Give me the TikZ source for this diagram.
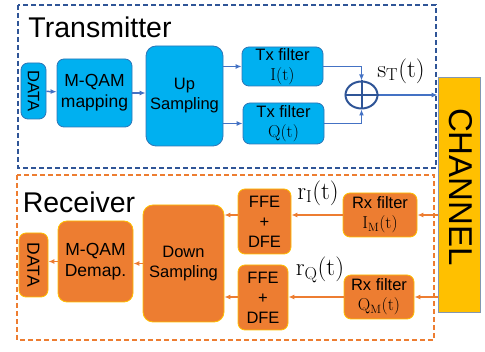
\documentclass[tikz,border=0pt]{standalone}
\usepackage[no-math]{fontspec}
\setmainfont{Liberation Sans}
\usetikzlibrary{arrows.meta,positioning,shapes.geometric}
\definecolor{txfill}{HTML}{00B0F0}
\definecolor{txline}{HTML}{2E75B6}
\definecolor{txarr}{HTML}{4472C4}
\definecolor{txdash}{HTML}{2F5597}
\definecolor{rxfill}{HTML}{ED7D31}
\definecolor{rxline}{HTML}{FFC000}
\definecolor{chfill}{HTML}{FFC000}
\definecolor{chline}{HTML}{8497B0}
\newcommand{\blkfont}{\fontsize{16.5}{20}\selectfont}
\newcommand{\bigblkfont}{\fontsize{17.5}{21}\selectfont}
\tikzset{
  blk/.style={draw=txline,line width=0.8pt,fill=txfill,rounded corners=7pt,align=center,inner sep=0pt,font=\blkfont},
  oblk/.style={blk,draw=rxline,fill=rxfill},
  ar/.style={-{Latex[length=6pt,width=5pt]},line width=1.5pt,draw=txarr},
  oar/.style={ar,draw=rxfill},
  frame/.style={line width=1.5pt,dash pattern=on 5pt off 3pt},
  ttl/.style={font=\fontsize{28.5}{30}\selectfont,inner sep=0pt},
  sig/.style={font=\fontsize{23}{26}\selectfont,inner sep=0pt},
}
\begin{document}
\begin{tikzpicture}[x=1pt,y=-1pt]
\useasboundingbox (0,0) rectangle (485,352);
% frames
\draw[frame,draw=txdash] (18,5) rectangle (436,168);
\draw[frame,draw=rxfill] (17,175) rectangle (434,340);
\node[ttl] (ttx) at (100,27) {Transmitter};
\node[ttl] (trx) at (79,202) {Receiver};

% channel
\node[draw=chline,line width=0.8pt,fill=chfill,minimum width=42pt,minimum height=235pt,inner sep=0pt] (chan) at (459,194.5) {};
\node[rotate=-90,font=\fontsize{33}{35}\selectfont,inner sep=0pt] (chtxt) at (461,187) {CHANNEL};

% transmitter
\node[blk,minimum width=25pt,minimum height=56pt] (txdata) at (33.5,91) {\rotatebox{-90}{DATA}};
\node[blk,minimum width=75pt,minimum height=68pt,font=\bigblkfont] (map) at (94.5,93) {M-QAM\\mapping};
\node[blk,minimum width=77pt,minimum height=100pt,rounded corners=10pt] (up) at (184.5,96) {Up\\Sampling};
\node[blk,minimum width=81pt,minimum height=39pt] (txi) at (282.5,66.5) {Tx filter\\$\mathrm{I(t)}$};
\node[blk,minimum width=81pt,minimum height=41pt] (txq) at (283.5,123.5) {Tx filter\\$\mathrm{Q(t)}$};
\node[ellipse,draw=txdash,line width=2pt,minimum width=32pt,minimum height=27pt,inner sep=0pt] (sum) at (361.5,95) {};
\draw[draw=txdash,line width=2pt] (sum.west) -- (sum.east) (sum.north) -- (sum.south);
\node[sig] (st) at (401,71) {$\mathrm{s_T(t)}$};

\draw[ar] (txdata) -- (map);
\draw[ar] (map.east) -- (map.east -| up.west);
\draw[ar] (up.east |- txi.west) -- (txi.west);
\draw[ar] (up.east |- txq.west) -- (txq.west);
\draw[ar] (txi.east) -| (sum.north);
\draw[ar] (txq.east) -| (sum.south);
\draw[ar] (sum.east) -- (sum.east -| chan.west);

% receiver
\node[oblk,minimum width=74pt,minimum height=44pt] (rxi) at (380,215) {Rx filter\\$\mathrm{I_M(t)}$};
\node[oblk,minimum width=70pt,minimum height=44pt] (rxq) at (379,297) {Rx filter\\$\mathrm{Q_M(t)}$};
\node[oblk,minimum width=53pt,minimum height=65pt] (ffe1) at (264.5,221.5) {FFE\\+\\DFE};
\node[oblk,minimum width=50pt,minimum height=65pt] (ffe2) at (263,297.5) {FFE\\+\\DFE};
\node[oblk,minimum width=81pt,minimum height=117pt,rounded corners=10pt] (down) at (183.5,263.5) {Down\\Sampling};
\node[oblk,minimum width=75pt,minimum height=81pt,rounded corners=9pt,font=\bigblkfont] (demap) at (95.5,261.5) {M-QAM\\Demap.};
\node[oblk,minimum width=29pt,minimum height=64pt,font=\bigblkfont] (rxdata) at (33.5,265) {\rotatebox{-90}{DATA}};
\node[sig] (ri) at (318,193) {$\mathrm{r_I(t)}$};
\node[sig] (rq) at (320,270) {$\mathrm{r_Q(t)}$};

\draw[oar] (rxi.east -| chan.west) -- (rxi.east);
\draw[oar] (rxq.east -| chan.west) -- (rxq.east);
\draw[oar] (rxi.west) -- (rxi.west -| ffe1.east);
\draw[oar] (rxq.west) -- (rxq.west -| ffe2.east);
\draw[oar] (ffe1.west |- rxi.west) -- (rxi.west -| down.east);
\draw[oar] (ffe2.west |- rxq.west) -- (rxq.west -| down.east);
\draw[oar] (down.west) -- (down.west -| demap.east);
\draw[oar] (demap.west) -- (demap.west -| rxdata.east);
\end{tikzpicture}
\end{document}
